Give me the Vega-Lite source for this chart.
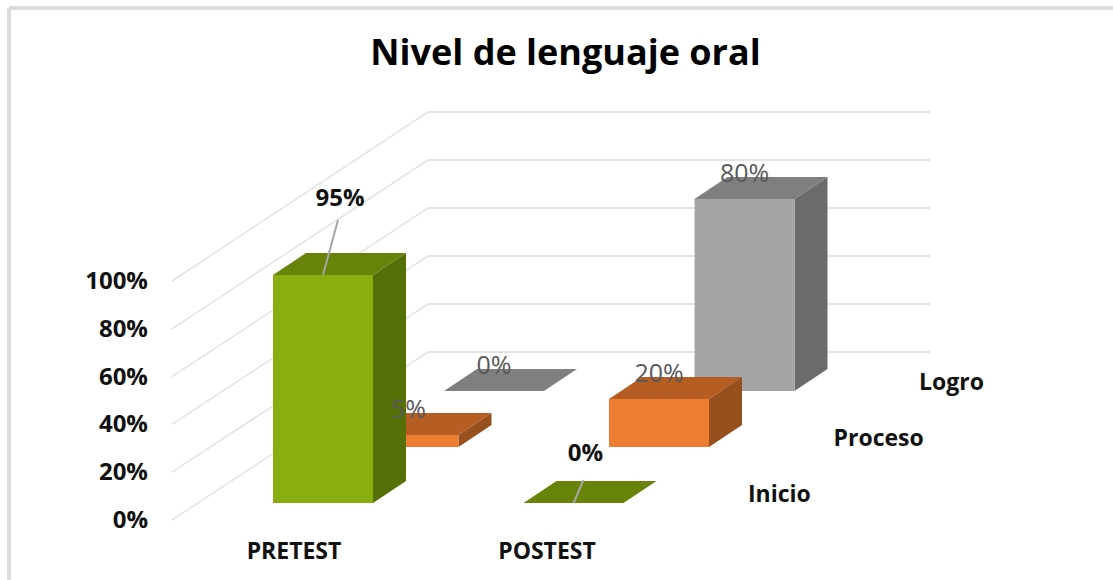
{
"$schema":"https://vega.github.io/schema/vega-lite/v6.json",
"width":1113,"height":580,"padding":0,
"autosize":{"type":"fit","contains":"padding"},
"background":"white",
"config":{"view":{"stroke":null}},
"data":{"values":[
{"test":"PRETEST","level":"Inicio","value":0.95},
{"test":"PRETEST","level":"Proceso","value":0.05},
{"test":"PRETEST","level":"Logro","value":0},
{"test":"POSTEST","level":"Inicio","value":0},
{"test":"POSTEST","level":"Proceso","value":0.2},
{"test":"POSTEST","level":"Logro","value":0.8}
]},
"transform":[
{"calculate":"indexof(['PRETEST','POSTEST'],datum.test)","as":"c"},
{"calculate":"indexof(['Inicio','Proceso','Logro'],datum.level)","as":"d"},
{"calculate":"273+250.5*datum.c+85.5*datum.d","as":"x0"},
{"calculate":"datum.x0+100","as":"x1"},
{"calculate":"503-56*datum.d","as":"base"},
{"calculate":"datum.base-240*datum.value","as":"top"},
{"calculate":"[0,1]","as":"t"},
{"flatten":["t"]},
{"calculate":"datum.x0+33*datum.t","as":"tx0"},
{"calculate":"datum.x1+33*datum.t","as":"tx1"},
{"calculate":"datum.top-22*datum.t","as":"ty"},
{"calculate":"datum.base-22*datum.t","as":"by"},
{"calculate":"datum.level=='Inicio'?(datum.c==0?17:12):0","as":"ldx"},
{"calculate":"datum.level=='Inicio'?(datum.c==0?76:49):25","as":"ldy"},
{"calculate":"datum.x0+50","as":"cx"},
{"calculate":"datum.cx+datum.ldx","as":"lx"},
{"calculate":"datum.top-datum.ldy","as":"ly"},
{"calculate":"datum.cx+(datum.c==0?15:10)","as":"lex"},
{"calculate":"datum.top-(datum.c==0?55:23)","as":"ley"}
],
"layer":[
{"mark":{"type":"rule","stroke":"#dcdcdc","strokeWidth":3},
 "encoding":{"x":{"datum":9,"type":"quantitative","scale":{"domain":[0,1113],"range":[0,1113]},"axis":null},"y":{"datum":8,"type":"quantitative","scale":{"domain":[0,580],"range":[0,580]},"axis":null},"y2":{"datum":580}}},
{"mark":{"type":"rule","stroke":"#dcdcdc","strokeWidth":3},
 "encoding":{"x":{"datum":9,"type":"quantitative","scale":{"domain":[0,1113],"range":[0,1113]},"axis":null},"x2":{"datum":1113},"y":{"datum":8,"type":"quantitative","scale":{"domain":[0,580],"range":[0,580]},"axis":null}}},
{"data":{"values":[{"tick":0},{"tick":0.2},{"tick":0.4},{"tick":0.6},{"tick":0.8},{"tick":1}]},
 "transform":[{"calculate":"520-239*datum.tick","as":"fy"},{"calculate":"352-240*datum.tick","as":"by"},{"calculate":"172","as":"fx"},{"calculate":"428","as":"bx"}],
 "mark":{"type":"rule","stroke":"#e3e3e3","strokeWidth":1.5},
 "encoding":{"x":{"field":"fx","type":"quantitative","scale":{"domain":[0,1113],"range":[0,1113]},"axis":null},"x2":{"field":"bx"},"y":{"field":"fy","type":"quantitative","scale":{"domain":[0,580],"range":[0,580]},"axis":null},"y2":{"field":"by"}}},
{"data":{"values":[{"tick":0},{"tick":0.2},{"tick":0.4},{"tick":0.6},{"tick":0.8},{"tick":1}]},
 "transform":[{"calculate":"352-240*datum.tick","as":"by"},{"calculate":"428","as":"bx"},{"calculate":"930","as":"ex"}],
 "mark":{"type":"rule","stroke":"#e3e3e3","strokeWidth":2},
 "encoding":{"x":{"field":"bx","type":"quantitative","scale":{"domain":[0,1113],"range":[0,1113]},"axis":null},"x2":{"field":"ex"},"y":{"field":"by","type":"quantitative","scale":{"domain":[0,580],"range":[0,580]},"axis":null}}},
{"data":{"values":[{"tick":0},{"tick":0.2},{"tick":0.4},{"tick":0.6},{"tick":0.8},{"tick":1}]},
 "transform":[{"calculate":"520-239*datum.tick","as":"fy"},{"calculate":"148","as":"fx"}],
 "mark":{"type":"text","align":"right","baseline":"middle","dy":1,"font":"Open Sans","fontWeight":"bold","fontSize":24,"fill":"#111111"},
 "encoding":{"x":{"field":"fx","type":"quantitative","scale":{"domain":[0,1113],"range":[0,1113]},"axis":null},"y":{"field":"fy","type":"quantitative","scale":{"domain":[0,580],"range":[0,580]},"axis":null},"text":{"field":"tick","type":"quantitative","format":".0%"}}},

{"transform":[{"filter":"datum.level=='Logro'"}],"mark":{"type":"area","fill":"#6b6b6b"},
 "encoding":{"x":{"field":"tx1","type":"quantitative","scale":{"domain":[0,1113],"range":[0,1113]},"axis":null},"y":{"field":"ty","type":"quantitative","scale":{"domain":[0,580],"range":[0,580]},"axis":null},"y2":{"field":"by"},"detail":{"field":"test"}}},
{"transform":[{"filter":"datum.level=='Logro'"}],"mark":{"type":"area","orient":"horizontal","fill":"#7f7f7f"},
 "encoding":{"y":{"field":"ty","type":"quantitative","scale":{"domain":[0,580],"range":[0,580]},"axis":null},"x":{"field":"tx0","type":"quantitative","scale":{"domain":[0,1113],"range":[0,1113]},"axis":null},"x2":{"field":"tx1"},"detail":{"field":"test"}}},
{"transform":[{"filter":"datum.level=='Logro' && datum.t==0"}],"mark":{"type":"rect","fill":"#a5a5a5"},
 "encoding":{"x":{"field":"x0","type":"quantitative","scale":{"domain":[0,1113],"range":[0,1113]},"axis":null},"x2":{"field":"x1"},"y":{"field":"top","type":"quantitative","scale":{"domain":[0,580],"range":[0,580]},"axis":null},"y2":{"field":"base"}}},

{"transform":[{"filter":"datum.level=='Proceso'"}],"mark":{"type":"area","fill":"#974f1e"},
 "encoding":{"x":{"field":"tx1","type":"quantitative","scale":{"domain":[0,1113],"range":[0,1113]},"axis":null},"y":{"field":"ty","type":"quantitative","scale":{"domain":[0,580],"range":[0,580]},"axis":null},"y2":{"field":"by"},"detail":{"field":"test"}}},
{"transform":[{"filter":"datum.level=='Proceso'"}],"mark":{"type":"area","orient":"horizontal","fill":"#b55d22"},
 "encoding":{"y":{"field":"ty","type":"quantitative","scale":{"domain":[0,580],"range":[0,580]},"axis":null},"x":{"field":"tx0","type":"quantitative","scale":{"domain":[0,1113],"range":[0,1113]},"axis":null},"x2":{"field":"tx1"},"detail":{"field":"test"}}},
{"transform":[{"filter":"datum.level=='Proceso' && datum.t==0"}],"mark":{"type":"rect","fill":"#ed7d31"},
 "encoding":{"x":{"field":"x0","type":"quantitative","scale":{"domain":[0,1113],"range":[0,1113]},"axis":null},"x2":{"field":"x1"},"y":{"field":"top","type":"quantitative","scale":{"domain":[0,580],"range":[0,580]},"axis":null},"y2":{"field":"base"}}},

{"transform":[{"filter":"datum.level=='Inicio'"}],"mark":{"type":"area","fill":"#567008"},
 "encoding":{"x":{"field":"tx1","type":"quantitative","scale":{"domain":[0,1113],"range":[0,1113]},"axis":null},"y":{"field":"ty","type":"quantitative","scale":{"domain":[0,580],"range":[0,580]},"axis":null},"y2":{"field":"by"},"detail":{"field":"test"}}},
{"transform":[{"filter":"datum.level=='Inicio'"}],"mark":{"type":"area","orient":"horizontal","fill":"#67830a"},
 "encoding":{"y":{"field":"ty","type":"quantitative","scale":{"domain":[0,580],"range":[0,580]},"axis":null},"x":{"field":"tx0","type":"quantitative","scale":{"domain":[0,1113],"range":[0,1113]},"axis":null},"x2":{"field":"tx1"},"detail":{"field":"test"}}},
{"transform":[{"filter":"datum.level=='Inicio' && datum.t==0"}],"mark":{"type":"rect","fill":"#8aae10"},
 "encoding":{"x":{"field":"x0","type":"quantitative","scale":{"domain":[0,1113],"range":[0,1113]},"axis":null},"x2":{"field":"x1"},"y":{"field":"top","type":"quantitative","scale":{"domain":[0,580],"range":[0,580]},"axis":null},"y2":{"field":"base"}}},

{"transform":[{"filter":"datum.level=='Inicio' && datum.t==0"}],"mark":{"type":"rule","stroke":"#a6a6a6","strokeWidth":2},
 "encoding":{"x":{"field":"cx","type":"quantitative","scale":{"domain":[0,1113],"range":[0,1113]},"axis":null},"x2":{"field":"lex"},"y":{"field":"top","type":"quantitative","scale":{"domain":[0,580],"range":[0,580]},"axis":null},"y2":{"field":"ley"}}},
{"transform":[{"filter":"datum.level!='Inicio' && datum.t==0"}],"mark":{"type":"text","align":"center","baseline":"middle","font":"Open Sans","fontSize":25,"fill":"#595959"},
 "encoding":{"x":{"field":"lx","type":"quantitative","scale":{"domain":[0,1113],"range":[0,1113]},"axis":null},"y":{"field":"ly","type":"quantitative","scale":{"domain":[0,580],"range":[0,580]},"axis":null},"text":{"field":"value","type":"quantitative","format":".0%"}}},
{"transform":[{"filter":"datum.level=='Inicio' && datum.t==0"}],"mark":{"type":"text","align":"center","baseline":"middle","font":"Open Sans","fontWeight":"bold","fontSize":24,"fill":"#111111"},
 "encoding":{"x":{"field":"lx","type":"quantitative","scale":{"domain":[0,1113],"range":[0,1113]},"axis":null},"y":{"field":"ly","type":"quantitative","scale":{"domain":[0,580],"range":[0,580]},"axis":null},"text":{"field":"value","type":"quantitative","format":".0%"}}},

{"data":{"values":[{"test":"PRETEST"},{"test":"POSTEST"}]},
 "transform":[{"calculate":"294+253*indexof(['PRETEST','POSTEST'],datum.test)","as":"px"},{"calculate":"551","as":"py"}],
 "mark":{"type":"text","align":"center","baseline":"middle","dy":1,"font":"Open Sans","fontWeight":"bold","fontSize":23,"fill":"#111111"},
 "encoding":{"x":{"field":"px","type":"quantitative","scale":{"domain":[0,1113],"range":[0,1113]},"axis":null},"y":{"field":"py","type":"quantitative","scale":{"domain":[0,580],"range":[0,580]},"axis":null},"text":{"field":"test"}}},
{"data":{"values":[{"level":"Inicio"},{"level":"Proceso"},{"level":"Logro"}]},
 "transform":[{"calculate":"indexof(['Inicio','Proceso','Logro'],datum.level)","as":"d"},{"calculate":"748+85.5*datum.d","as":"px"},{"calculate":"494-56*datum.d","as":"py"}],
 "mark":{"type":"text","align":"left","baseline":"middle","dy":1,"font":"Open Sans","fontWeight":"bold","fontSize":23,"fill":"#111111"},
 "encoding":{"x":{"field":"px","type":"quantitative","scale":{"domain":[0,1113],"range":[0,1113]},"axis":null},"y":{"field":"py","type":"quantitative","scale":{"domain":[0,580],"range":[0,580]},"axis":null},"text":{"field":"level"}}},
{"data":{"values":[{"chart":"Nivel de lenguaje oral"}]},
 "transform":[{"calculate":"565.5","as":"px"},{"calculate":"54","as":"py"}],
 "mark":{"type":"text","align":"center","baseline":"middle","font":"Open Sans","fontWeight":"bold","fontSize":36,"fill":"#000000"},
 "encoding":{"x":{"field":"px","type":"quantitative","scale":{"domain":[0,1113],"range":[0,1113]},"axis":null},"y":{"field":"py","type":"quantitative","scale":{"domain":[0,580],"range":[0,580]},"axis":null},"text":{"field":"chart"}}}
]
}
